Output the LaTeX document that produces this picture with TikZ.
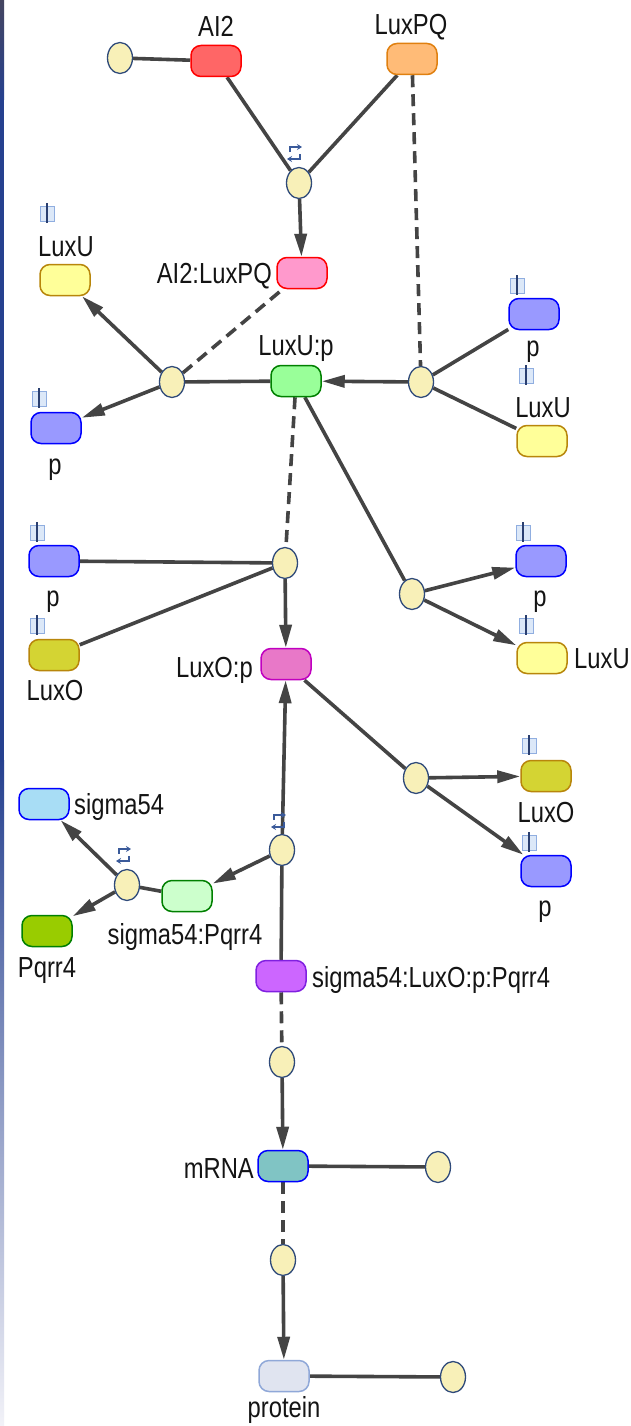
\documentclass[tikz,border=0pt]{standalone}
\usepackage{fontspec}
\newfontfamily\labfont[FakeStretch=0.82]{Liberation Sans}
\usetikzlibrary{shapes.geometric,arrows.meta,backgrounds}
\pgfdeclarelayer{bottom}
\pgfsetlayers{bottom,background,main}
\definecolor{lineC}{HTML}{444444}
\definecolor{ellF}{HTML}{F8F0B8}
\definecolor{ellB}{HTML}{2F4A7A}
\definecolor{ai2F}{HTML}{FF6666}
\definecolor{redB}{HTML}{FF0000}
\definecolor{luxpqF}{HTML}{FFBB77}
\definecolor{luxpqB}{HTML}{E08010}
\definecolor{cplxF}{HTML}{FF99CC}
\definecolor{luxuF}{HTML}{FFFF99}
\definecolor{goldB}{HTML}{B8860B}
\definecolor{pF}{HTML}{9999FF}
\definecolor{blueB}{HTML}{0000FF}
\definecolor{luxupF}{HTML}{99FF99}
\definecolor{greenB}{HTML}{008000}
\definecolor{luxoF}{HTML}{D4D433}
\definecolor{luxopF}{HTML}{E878C8}
\definecolor{luxopB}{HTML}{C000C0}
\definecolor{sigF}{HTML}{A8DDF5}
\definecolor{pqrF}{HTML}{99CC00}
\definecolor{sigpqF}{HTML}{CCFFCC}
\definecolor{bigF}{HTML}{CC66FF}
\definecolor{bigB}{HTML}{8020E0}
\definecolor{mrnaF}{HTML}{80C4C4}
\definecolor{protF}{HTML}{E0E4F0}
\definecolor{protB}{HTML}{90A8D8}
\definecolor{cloneF}{HTML}{DCE8F8}
\definecolor{cloneB}{HTML}{90AEE0}
\definecolor{cloneL}{HTML}{2A3F70}
\definecolor{revC}{HTML}{3A5A9A}
\definecolor{stripTop}{HTML}{454560}
\definecolor{stripMid}{HTML}{26418F}
\definecolor{stripBot}{HTML}{F2F2F8}
\begin{document}
\begin{tikzpicture}[x=1pt,y=-1pt,
  proc/.style={ellipse, draw=ellB, fill=ellF, line width=1.3pt, minimum width=25pt, minimum height=31pt, inner sep=0pt},
  sp/.style={rectangle, rounded corners=10pt, minimum width=50pt, minimum height=31pt, line width=1.5pt, inner sep=0pt},
  lab/.style={font=\labfont\fontsize{29}{32}\selectfont, inner sep=0pt, text=black!92},
  conn/.style={draw=lineC, line width=3.6pt},
  dconn/.style={conn, dash pattern=on 12pt off 7pt},
  arr/.style={conn, -{Triangle[length=23pt,width=12pt]}},
  revicon/.pic={
    \draw[revC, line width=1.3pt, -{Stealth[length=5pt,width=6pt]}] (-4,-1) -- (-4,-6) -- (8,-6);
    \draw[revC, line width=1.3pt, -{Stealth[length=5pt,width=6pt]}] (6,1) -- (6,6) -- (-7,6);
  },
  cloneicon/.pic={
    \draw[fill=cloneF, draw=cloneB, line width=0.9pt] (-7,-7) rectangle (7,8);
    \draw[cloneL, line width=1.2pt] (0,-10) -- (0,10);
  }]
\useasboundingbox (0,0) rectangle (630,1426);
\begin{pgfonlayer}{bottom}
\fill[white] (0,0) rectangle (630,1426);
\shade[top color=stripTop, bottom color=stripMid] (0,0) rectangle (4,100);
\fill[stripMid] (0,100) rectangle (4,760);
\shade[top color=stripMid, bottom color=stripBot] (0,760) rectangle (4,1426);
\end{pgfonlayer}

% ---------- nodes ----------
\node[proc] (e1) at (120,58) {};
\node[sp, fill=ai2F, draw=redB] (ai2) at (216,61) {};
\node[lab, anchor=base] (ai2L) at (216,37) {AI2};
\node[sp, fill=luxpqF, draw=luxpqB] (luxpq) at (412,59) {};
\node[lab, anchor=base] (luxpqL) at (411,35) {LuxPQ};
\node[proc] (p1) at (299,183) {};
\pic (r1) at (294,153) {revicon};
\node[sp, fill=cplxF, draw=redB] (ai2luxpq) at (302,273) {};
\node[lab, anchor=base east] (ai2luxpqL) at (272,283) {AI2:LuxPQ};

\node[sp, fill=luxuF, draw=goldB] (luxuA) at (65,280) {};
\node[lab, anchor=base] (luxuAL) at (66,256) {LuxU};
\pic (c1) at (47,213) {cloneicon};
\node[proc] (p3) at (172,382) {};
\node[sp, fill=pF, draw=blueB] (pA) at (56,428) {};
\node[lab, anchor=base] (pAL) at (55,474) {p};
\pic (c2) at (39,398) {cloneicon};

\node[sp, fill=luxupF, draw=greenB] (luxup) at (296,381) {};
\node[lab, anchor=base] (luxupL) at (296,355) {LuxU:p};
\node[proc] (p2) at (421,382) {};
\node[sp, fill=pF, draw=blueB] (pB) at (534,314) {};
\node[lab, anchor=base] (pBL) at (533,356) {p};
\pic (c3) at (517,285) {cloneicon};
\node[sp, fill=luxuF, draw=goldB] (luxuB) at (542,441) {};
\node[lab, anchor=base] (luxuBL) at (543,417) {LuxU};
\pic (c4) at (526,375) {cloneicon};

\node[sp, fill=pF, draw=blueB] (pC) at (54,561) {};
\node[lab, anchor=base] (pCL) at (53,606) {p};
\pic (c5) at (37,532) {cloneicon};
\node[sp, fill=luxoF, draw=goldB] (luxoA) at (54,655) {};
\node[lab, anchor=base] (luxoAL) at (55,700) {LuxO};
\pic (c6) at (37,625) {cloneicon};
\node[proc] (p4) at (285,563) {};
\node[sp, fill=luxopF, draw=luxopB] (luxop) at (286,664) {};
\node[lab, anchor=base east] (luxopL) at (253,677) {LuxO:p};

\node[proc] (p5) at (412,594) {};
\node[sp, fill=pF, draw=blueB] (pD) at (541,561) {};
\node[lab, anchor=base] (pDL) at (540,606) {p};
\pic (c7) at (523,532) {cloneicon};
\node[sp, fill=luxuF, draw=goldB] (luxuC) at (542,658) {};
\node[lab, anchor=base west] (luxuCL) at (574,668) {LuxU};
\pic (c8) at (526,625) {cloneicon};

\node[proc] (p6) at (416,778) {};
\node[sp, fill=luxoF, draw=goldB] (luxoB) at (546,776) {};
\node[lab, anchor=base] (luxoBL) at (546,822) {LuxO};
\pic (c9) at (529,745) {cloneicon};
\node[sp, fill=pF, draw=blueB] (pE) at (546,871) {};
\node[lab, anchor=base] (pEL) at (545,916) {p};
\pic (c10) at (529,842) {cloneicon};

\node[sp, fill=sigF, draw=blueB] (sig) at (44,804) {};
\node[lab, anchor=base west] (sigL) at (74,814) {sigma54};
\node[proc] (p7) at (127,885) {};
\pic (r2) at (123,855) {revicon};
\node[sp, fill=pqrF, draw=greenB] (pqr) at (47,931) {};
\node[lab, anchor=base] (pqrL) at (47,977) {Pqrr4};
\node[sp, fill=sigpqF, draw=greenB] (sigpq) at (187,896) {};
\node[lab, anchor=base] (sigpqL) at (185,944) {sigma54:Pqrr4};
\node[proc] (p8) at (282,850) {};
\pic (r3) at (278,821) {revicon};

\node[sp, fill=bigF, draw=bigB] (big) at (281,976) {};
\node[lab, anchor=base west] (bigL) at (312,987) {sigma54:LuxO:p:Pqrr4};
\node[proc] (p9) at (282,1062) {};
\node[sp, fill=mrnaF, draw=blueB] (mrna) at (283,1166) {};
\node[lab, anchor=base east] (mrnaL) at (254,1178) {mRNA};
\node[proc] (e2) at (438,1167) {};
\node[proc] (p10) at (283,1260) {};
\node[sp, fill=protF, draw=protB] (prot) at (284,1376) {};
\node[lab, anchor=base] (protL) at (284,1417) {protein};
\node[proc] (e3) at (453,1377) {};

% ---------- connectors ----------
\begin{pgfonlayer}{background}
\draw[conn] (e1) -- (ai2);
\draw[conn] (ai2) -- (p1);
\draw[conn] (luxpq) -- (p1);
\draw[arr] (p1) -- (ai2luxpq);
\draw[dconn] (luxpq) -- (p2);
\draw[dconn] (p3) -- (ai2luxpq);
\draw[arr] (p3) -- (luxuA);
\draw[arr] (p3) -- (pA);
\draw[conn] (p3) -- (luxup);
\draw[arr] (p2) -- (luxup);
\draw[conn] (pB) -- (p2);
\draw[conn] (luxuB) -- (p2);
\draw[dconn] (luxup) -- (p4);
\draw[conn] (luxup) -- (p5);
\draw[conn] (pC) -- (p4);
\draw[conn] (luxoA) -- (p4);
\draw[arr] (p4) -- (luxop);
\draw[arr] (p5) -- (pD);
\draw[arr] (p5) -- (luxuC);
\draw[conn] (luxop) -- (p6);
\draw[arr] (p6) -- (luxoB);
\draw[arr] (p6) -- (pE);
\draw[arr] (p8) -- (luxop);
\draw[arr] (p8) -- (sigpq);
\draw[conn] (p7) -- (sigpq);
\draw[arr] (p7) -- (sig);
\draw[arr] (p7) -- (pqr);
\draw[conn] (p8) -- (big);
\draw[dconn] (big) -- (p9);
\draw[arr] (p9) -- (mrna);
\draw[conn] (mrna) -- (e2);
\draw[dconn] (mrna) -- (p10);
\draw[arr] (p10) -- (prot);
\draw[conn] (prot) -- (e3);
\end{pgfonlayer}
\end{tikzpicture}
\end{document}
